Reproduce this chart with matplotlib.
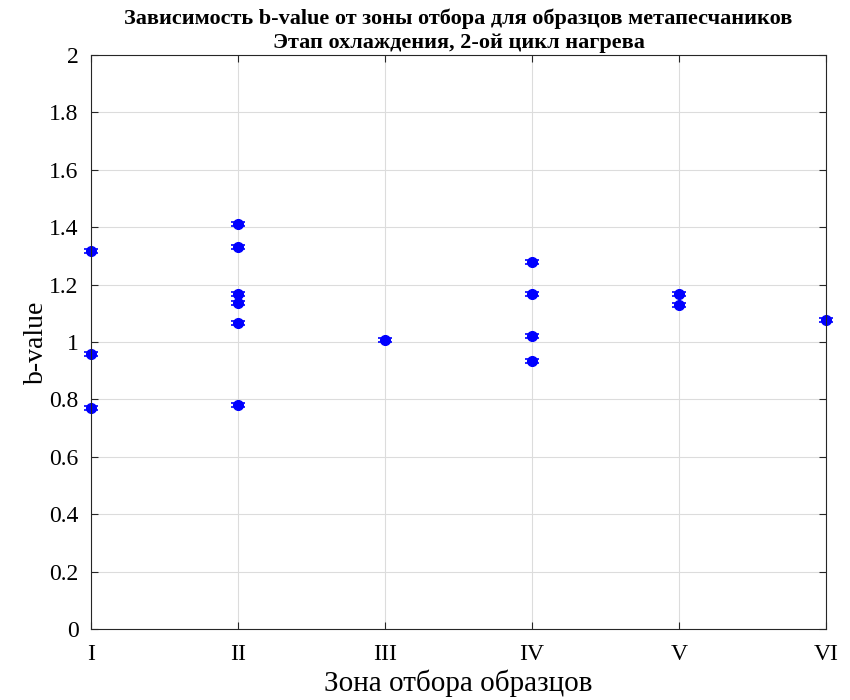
import numpy as np
import matplotlib
matplotlib.use('Agg')
from matplotlib import pyplot as plt

plt.rcParams['font.family'] = ['Liberation Serif', 'DejaVu Serif']

# b-value по зонам отбора
zone_labels = ['I', 'II', 'III', 'IV', 'V', 'VI']
zone_I = [1.317, 0.958, 0.770]
zone_II = [1.411, 1.331, 1.167, 1.136, 1.066, 0.780]
zone_III = [1.007]
zone_IV = [1.279, 1.167, 1.021, 0.934]
zone_V = [1.167, 1.129]
zone_VI = [1.077]
b_err = 0.006

zones = [zone_I, zone_II, zone_III, zone_IV, zone_V, zone_VI]

fig = plt.figure(figsize=(8.5, 7), dpi=100)
ax = fig.add_axes([0.107, 0.1014, 0.865, 0.8200])

for i, vals in enumerate(zones):
    xs = np.full(len(vals), i + 1)
    ax.errorbar(xs, vals, yerr=b_err, fmt='o', color='blue', ms=7,
                capsize=5, elinewidth=1, capthick=1.2, clip_on=False)

ax.set_xlim(1, 6)
ax.set_ylim(0, 2)
ax.set_xticks(range(1, 7))
ax.set_xticklabels(zone_labels)
ax.set_yticks(np.arange(0, 2.01, 0.2))
ax.set_yticklabels(['0', '0.2', '0.4', '0.6', '0.8', '1', '1.2', '1.4', '1.6', '1.8', '2'])
ax.grid(True, color='#dcdcdc', linewidth=0.8)
ax.set_axisbelow(True)
ax.tick_params(direction='in', top=True, right=True, labelsize=17,
               length=5, color='#262626')
ax.tick_params(axis='x', pad=11)
ax.tick_params(axis='y', pad=9)
for s in ax.spines.values():
    s.set_color('#262626')
    s.set_linewidth(0.8)

ax.set_xlabel('Зона отбора образцов', fontsize=21, labelpad=3)
ax.set_ylabel('b-value', fontsize=20, labelpad=0)
ax.set_title('Зависимость b-value от зоны отбора для образцов метапесчаников\n'
             'Этап охлаждения, 2-ой цикл нагрева', fontsize=16, fontweight='bold',
             linespacing=1.3, pad=5)

fig.savefig('out.png', dpi=100)
